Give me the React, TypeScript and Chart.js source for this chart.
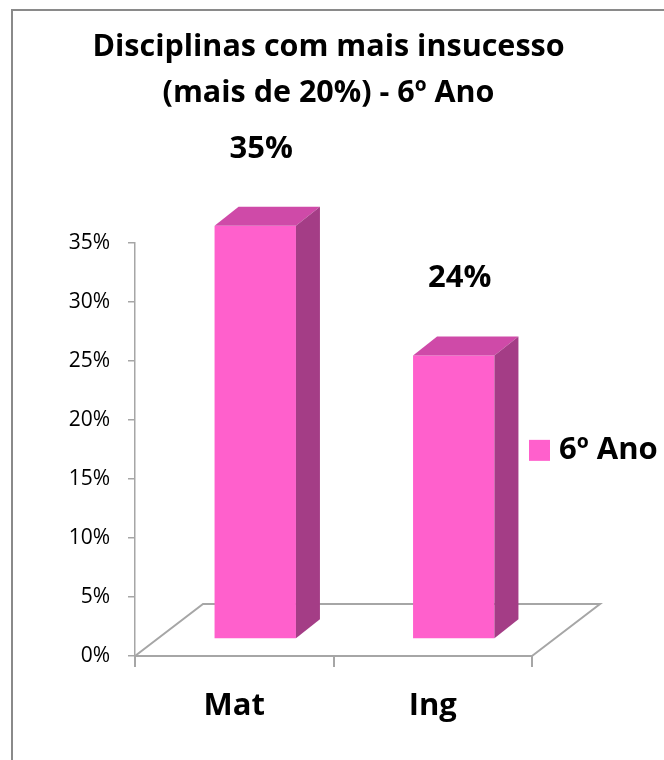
import React, { useEffect, useRef } from 'react';
import { Chart, registerables } from 'chart.js';

Chart.register(...registerables);

// ---- data ----
const categories = ['Mat', 'Ing'];
const seriesLabel = '6º Ano';
const values = [0.35, 0.24];
const yTickLabels = ['0%', '5%', '10%', '15%', '20%', '25%', '30%', '35%'];
const titleLines = ['Disciplinas com mais insucesso', '(mais de 20%) - 6º Ano'];

// ---- style ----
const FONT = '"Open Sans", sans-serif';
const FRONT = '#FF60CC';
const TOP = '#CF4AA8';
const SIDE = '#A43D86';
const AXIS = '#a6a6a6';

// fake 3D geometry
const FLOOR_DX = 68;
const FLOOR_DY = -52;
const BAR_SHIFT_X = 21;
const BAR_SHIFT_Y = -17;
const BAR_DEPTH_X = 24;
const BAR_DEPTH_Y = -19;

const fake3d = {
  id: 'fake3d',
  beforeDraw(chart: any) {
    const { ctx } = chart;
    ctx.save();
    ctx.strokeStyle = '#8a8a8a';
    ctx.lineWidth = 2;
    ctx.strokeRect(12, 10, 760, 820);
    ctx.restore();
  },
  beforeDatasetsDraw(chart: any) {
    const { ctx, chartArea: ca } = chart;
    ctx.save();
    ctx.strokeStyle = AXIS;
    ctx.lineWidth = 2;
    ctx.beginPath();
    ctx.moveTo(ca.left, ca.bottom);
    ctx.lineTo(ca.left + FLOOR_DX, ca.bottom + FLOOR_DY);
    ctx.lineTo(ca.right + FLOOR_DX, ca.bottom + FLOOR_DY);
    ctx.lineTo(ca.right, ca.bottom);
    ctx.stroke();
    ctx.restore();
    ctx.save();
    ctx.translate(BAR_SHIFT_X, BAR_SHIFT_Y);
  },
  afterDatasetsDraw(chart: any) {
    const { ctx, chartArea: ca } = chart;
    ctx.restore();
    const meta = chart.getDatasetMeta(0);
    meta.data.forEach((bar: any, i: number) => {
      const { x, y, base, width } = bar.getProps(['x', 'y', 'base', 'width'], true);
      const x0 = x - width / 2 + BAR_SHIFT_X;
      const x1 = x + width / 2 + BAR_SHIFT_X;
      const yt = y + BAR_SHIFT_Y;
      const yb = base + BAR_SHIFT_Y;
      ctx.save();
      ctx.fillStyle = TOP;
      ctx.beginPath();
      ctx.moveTo(x0, yt);
      ctx.lineTo(x1, yt);
      ctx.lineTo(x1 + BAR_DEPTH_X, yt + BAR_DEPTH_Y);
      ctx.lineTo(x0 + BAR_DEPTH_X, yt + BAR_DEPTH_Y);
      ctx.closePath();
      ctx.fill();
      ctx.fillStyle = SIDE;
      ctx.beginPath();
      ctx.moveTo(x1, yt);
      ctx.lineTo(x1 + BAR_DEPTH_X, yt + BAR_DEPTH_Y);
      ctx.lineTo(x1 + BAR_DEPTH_X, yb + BAR_DEPTH_Y);
      ctx.lineTo(x1, yb);
      ctx.closePath();
      ctx.fill();
      // value label
      ctx.fillStyle = '#000';
      ctx.font = `bold 31px ${FONT}`;
      ctx.textAlign = 'center';
      ctx.textBaseline = 'middle';
      const v = chart.data.datasets[0].data[i];
      ctx.fillText(Math.round(v * 100) + '%', x + BAR_SHIFT_X + 6, yt - 77);
      ctx.restore();
    });
    // legend
    const ds = chart.data.datasets[0];
    const midY = (ca.top + ca.bottom) / 2 + 1;
    ctx.save();
    ctx.fillStyle = ds.backgroundColor;
    ctx.fillRect(ca.right - 3, midY - 10.5, 21, 21);
    ctx.fillStyle = '#000';
    ctx.font = `bold 31px ${FONT}`;
    ctx.textAlign = 'left';
    ctx.textBaseline = 'middle';
    ctx.fillText(ds.label, ca.right + 27, midY);
    ctx.restore();
  },
};

export default function App() {
  const ref = useRef<HTMLCanvasElement | null>(null);
  useEffect(() => {
    if (!ref.current) return;
    const chart = new Chart(ref.current, {
      type: 'bar',
      data: {
        labels: categories,
        datasets: [
          {
            label: seriesLabel,
            data: values,
            backgroundColor: FRONT,
            borderWidth: 0,
            barPercentage: 0.41,
            categoryPercentage: 1,
          },
        ],
      },
      options: {
        responsive: false,
        animation: false,
        events: [],
        layout: { padding: { left: 0, right: 7, top: 0, bottom: 0 } },
        plugins: {
          legend: { display: false },
          tooltip: { enabled: false },
          title: {
            display: true,
            text: titleLines,
            color: '#000',
            font: { family: FONT, size: 30.5, weight: 'bold', lineHeight: 1.51 },
            padding: { top: 24, bottom: 126.6 },
          },
        },
        scales: {
          x: {
            grid: {
              display: true,
              drawOnChartArea: false,
              tickLength: 11,
              color: AXIS,
              lineWidth: 2,
              offset: true,
            },
            border: { display: true, color: AXIS, width: 2 },
            ticks: {
              color: '#000',
              font: { family: FONT, size: 31, weight: 'bold' },
              padding: 21,
            },
            afterFit: (s: any) => {
              s.height = 104;
            },
          },
          y: {
            min: 0,
            max: 0.35,
            ticks: {
              stepSize: 0.05,
              callback: (v: any) => yTickLabels[Math.round(Number(v) / 0.05)],
              color: '#000',
              font: { family: FONT, size: 21 },
              padding: 18,
            },
            grid: {
              drawOnChartArea: false,
              tickLength: 7,
              color: AXIS,
              lineWidth: 1.5,
            },
            border: { display: true, color: AXIS, width: 1.5 },
            afterFit: (s: any) => {
              s.width = 135;
            },
          },
          yR: {
            type: 'linear',
            position: 'right',
            display: true,
            grid: { display: false },
            border: { display: false },
            ticks: { display: false },
            afterFit: (s: any) => {
              s.width = 125;
            },
          },
        },
      },
      plugins: [fake3d],
    } as any);
    return () => chart.destroy();
  }, []);
  return (
    <div style={{ position: 'absolute', left: 0, top: 0, width: 664, height: 760 }}>
      <canvas ref={ref} width={664} height={760} />
    </div>
  );
}
